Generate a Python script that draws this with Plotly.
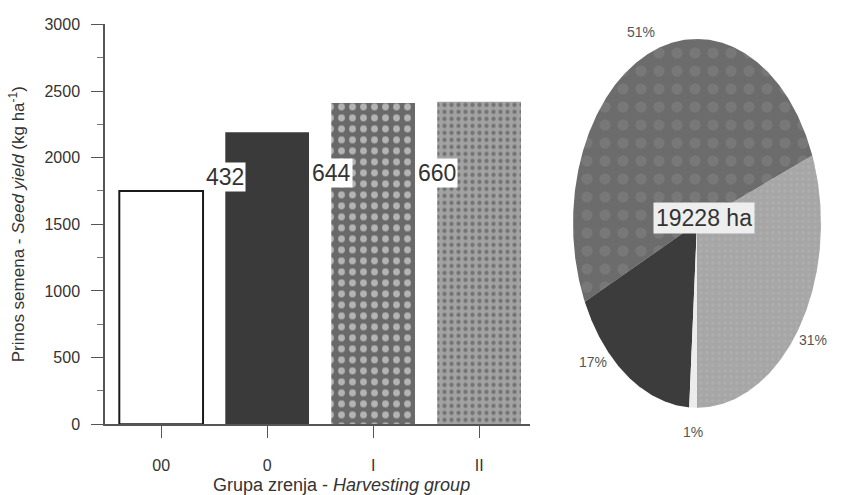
import numpy as np
import plotly.graph_objects as go

# ---- data ----
groups = ["00", "0", "I", "II"]
seed_yield = [1750, 2190, 2410, 2420]          # kg/ha
bar_label_groups = ["0", "I", "II"]
bar_label_values = [432, 644, 660]
area_share = [1, 17, 51, 31]                   # % of total area, per group
total_area_label = "19228 ha"

# ---- styles ----
FONT = "Liberation Sans, Arial, sans-serif"
TXT = "#333333"
bar_fill = ["#ffffff", "#3a3a3a", "#696969", "#a2a2a2"]
bar_pattern = ["", "", ".", "."]
bar_pattern_fg = ["#ffffff", "#3a3a3a", "#8c8c8c", "#b6b6b6"]
bar_pattern_size = [8, 8, 11, 7]
bar_line_w = [2, 0, 0, 0]
pie_fill = {"00": "#ececec", "0": "#3c3c3c", "I": "#6c6c6c", "II": "#a6a6a6"}
pie_dots = {"00": "", "0": "", "I": ".", "II": "."}
pie_dot_fg = {"00": "#ececec", "0": "#3c3c3c", "I": "#848484", "II": "#b4b4b4"}
pie_dot_size = {"00": 8, "0": 8, "I": 18, "II": 6}
label_radius = 1.13
label_angle_nudge = {"0": -14}   # degrees, keeps the 17% label clear of the rim

W, H = 842, 495

fig = go.Figure()

# ---- bar chart ----
fig.add_trace(go.Bar(
    x=groups, y=seed_yield, width=0.79,
    marker=dict(
        color=bar_fill,
        line=dict(color="#1a1a1a", width=bar_line_w),
        pattern=dict(shape=bar_pattern, fgcolor=bar_pattern_fg,
                     size=bar_pattern_size, solidity=0.3),
    ),
    xaxis="x", yaxis="y", showlegend=False, hoverinfo="x+y",
))

# value labels sitting on the left edge of bars 0, I and II
label_y = [1855, 1885, 1885]
for g, v, yy in zip(bar_label_groups, bar_label_values, label_y):
    idx = groups.index(g)
    fig.add_annotation(
        x=idx - 0.395, y=yy, xref="x", yref="y", text=str(v), showarrow=False,
        xanchor="center", yanchor="middle",
        font=dict(family=FONT, size=23, color=TXT),
        bgcolor="#ffffff", borderpad=1,
    )

# ---- elliptical pie (drawn counter-clockwise starting straight down) ----
share = dict(zip(groups, area_share))
ccw_order = ["II", "I", "0", "00"]
theta0 = -90.0
for g in ccw_order:
    span = share[g] / 100.0 * 360.0
    t = np.radians(np.linspace(theta0, theta0 + span, max(8, int(span * 2))))
    xs = np.concatenate([[0.0], np.cos(t), [0.0]])
    ys = np.concatenate([[0.0], np.sin(t), [0.0]])
    fp = dict(shape=pie_dots[g], fgcolor=pie_dot_fg[g], bgcolor=pie_fill[g],
              size=pie_dot_size[g], solidity=0.3)
    fig.add_trace(go.Scatter(
        x=xs, y=ys, mode="lines", fill="toself", fillcolor=pie_fill[g],
        fillpattern=fp, line=dict(width=0, color=pie_fill[g]),
        xaxis="x2", yaxis="y2", showlegend=False, hoverinfo="skip",
    ))
    mid = np.radians(theta0 + span / 2 + label_angle_nudge.get(g, 0))
    fig.add_annotation(
        x=label_radius * np.cos(mid), y=label_radius * np.sin(mid),
        xref="x2", yref="y2", text=f"{share[g]}%", showarrow=False,
        xanchor="center", yanchor="middle",
        font=dict(family=FONT, size=14, color="#555555"),
    )
    theta0 += span

fig.add_annotation(
    x=0.06, y=0.03, xref="x2", yref="y2", text=total_area_label, showarrow=False,
    xanchor="center", yanchor="middle",
    font=dict(family=FONT, size=23, color=TXT), bgcolor="#eeeeee", borderpad=2,
)

# ---- axis titles ----
fig.add_annotation(
    x=17 / W, y=1 - 224 / H, xref="paper", yref="paper", textangle=-90,
    xanchor="center", yanchor="middle",
    text="Prinos semena - <i>Seed yield</i> (kg ha<sup>-1</sup>)", showarrow=False,
    font=dict(family=FONT, size=17, color=TXT),
)
fig.add_annotation(
    x=341 / W, y=0, xref="paper", yref="paper",
    xanchor="center", yanchor="bottom", yshift=-11,
    text="Grupa zrenja - <i>Harvesting group</i>", showarrow=False,
    font=dict(family=FONT, size=18, color=TXT),
)

# ---- layout ----
px_x = lambda p: p / W
px_y = lambda p: 1 - p / H
fig.update_layout(
    width=W, height=H, margin=dict(l=0, r=0, t=0, b=0),
    paper_bgcolor="#ffffff", plot_bgcolor="rgba(0,0,0,0)",
    font=dict(family=FONT, color=TXT),
    xaxis=dict(
        domain=[px_x(105), px_x(530)], range=[-0.53, 3.48],
        showline=True, linecolor="#555555", linewidth=1.5,
        ticks="outside", ticklen=12, tickcolor="#555555", tickwidth=1.2,
        ticklabelstandoff=14, tickfont=dict(size=16, color=TXT),
        showgrid=False, zeroline=False, fixedrange=True,
    ),
    yaxis=dict(
        domain=[px_y(431), px_y(17)], range=[0, 3000],
        tickvals=[0, 500, 1000, 1500, 2000, 2500, 3000],
        showline=True, linecolor="#555555", linewidth=1.5,
        ticks="outside", ticklen=12, tickcolor="#555555", tickwidth=1.2,
        minor=dict(dtick=250, ticks="outside", ticklen=6, tickcolor="#777777"),
        ticklabelstandoff=8, tickfont=dict(size=16, color=TXT),
        showgrid=False, zeroline=False, fixedrange=True,
    ),
    xaxis2=dict(
        domain=[px_x(560), 1.0], range=[(560 - 697) / 124, (842 - 697) / 124],
        visible=False, fixedrange=True,
    ),
    yaxis2=dict(
        domain=[0.0, 1.0], range=[-(495 - 223) / 191, 223 / 191],
        visible=False, fixedrange=True,
    ),
)

fig.write_html("out.html")
